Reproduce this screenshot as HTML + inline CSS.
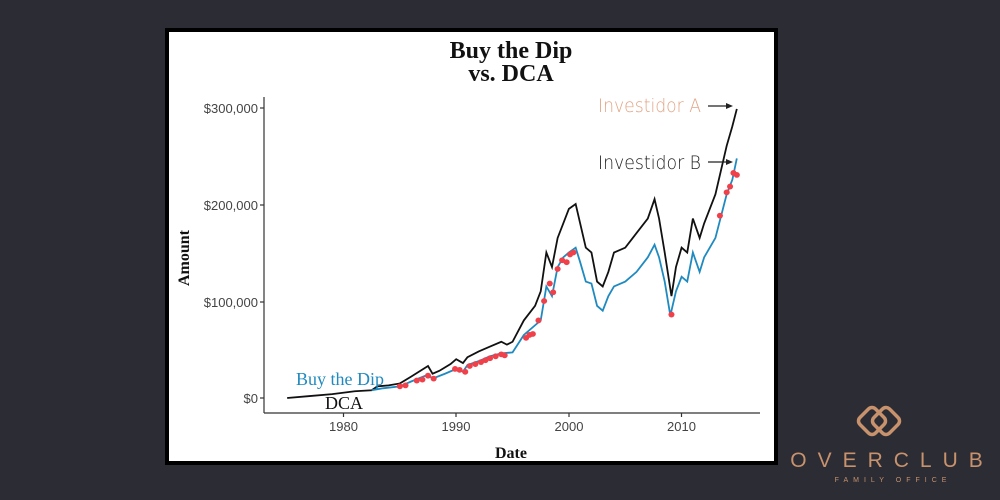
<!DOCTYPE html>
<html><head><meta charset="utf-8"><style>
html,body{margin:0;padding:0;width:1000px;height:500px;background:#2c2c35;overflow:hidden}
svg{display:block}
</style></head><body>
<svg width="1000" height="500" xmlns="http://www.w3.org/2000/svg">
<rect x="0" y="0" width="1000" height="500" fill="#2c2c35"/>
<rect x="167" y="30" width="609" height="433" fill="#fff" stroke="#000" stroke-width="4"/>
<g font-family="Liberation Serif, serif" font-weight="bold" font-size="24" text-anchor="middle" fill="#111">
<text x="511" y="58">Buy the Dip</text>
<text x="511" y="81">vs. DCA</text>
</g>
<text x="511" y="458" font-family="Liberation Serif, serif" font-weight="bold" font-size="16" text-anchor="middle" fill="#111">Date</text>
<text transform="translate(189,258) rotate(-90)" font-family="Liberation Serif, serif" font-weight="bold" font-size="16" text-anchor="middle" fill="#111">Amount</text>
<line x1="264" y1="97" x2="264" y2="413" stroke="#333" stroke-width="1.2"/>
<line x1="264" y1="413" x2="760" y2="413" stroke="#333" stroke-width="1.2"/>
<g stroke="#333" stroke-width="1.2">
<line x1="260" y1="108" x2="264" y2="108"/><line x1="260" y1="205" x2="264" y2="205"/>
<line x1="260" y1="302" x2="264" y2="302"/><line x1="260" y1="398" x2="264" y2="398"/>
<line x1="343.5" y1="413" x2="343.5" y2="417"/><line x1="456" y1="413" x2="456" y2="417"/>
<line x1="569" y1="413" x2="569" y2="417"/><line x1="681.5" y1="413" x2="681.5" y2="417"/>
</g>
<g font-family="Liberation Sans, sans-serif" font-size="13" fill="#444" text-anchor="end">
<text x="258" y="113">$300,000</text><text x="258" y="210">$200,000</text>
<text x="258" y="307">$100,000</text><text x="258" y="403">$0</text>
</g>
<g font-family="Liberation Sans, sans-serif" font-size="13" fill="#444" text-anchor="middle">
<text x="343.5" y="431">1980</text><text x="456" y="431">1990</text>
<text x="569" y="431">2000</text><text x="681.5" y="431">2010</text>
</g>
<g transform="translate(-21971.1,398) scale(11.27,-0.97)">
<polyline fill="none" stroke="#111" stroke-width="1.8" vector-effect="non-scaling-stroke" points="1975,0 1977,2 1979,4 1981,7 1982.5,8 1983,12 1984,13 1985,15 1986,22 1987.5,33 1987.9,25 1988.5,28 1989.5,35 1990,40 1990.6,36 1991,42 1992,48 1993,53 1994,58 1994.5,55 1995,58 1996,80 1997,95 1997.5,110 1998,150 1998.5,135 1999,165 1999.5,180 2000,195 2000.6,200 2001,180 2001.5,155 2002,150 2002.5,120 2003,115 2003.5,130 2004,150 2005,155 2006,170 2007,185 2007.6,205 2008,185 2008.5,150 2009.1,105 2009.5,135 2010,155 2010.5,150 2011,185 2011.6,165 2012,180 2013,210 2014,260 2014.5,280 2014.9,298"/>
<polyline fill="none" stroke="#1f8ac0" stroke-width="1.8" vector-effect="non-scaling-stroke" points="1982.5,8 1983.5,10 1985,12 1986,17 1987.5,24 1987.9,20 1989,25 1990,30 1990.6,27 1991,34 1992,38 1993,43 1994,46 1995,47 1996,65 1997,75 1997.5,80 1998,115 1998.5,105 1999,135 1999.5,145 2000,150 2000.6,155 2001,140 2001.5,120 2002,118 2002.5,95 2003,90 2003.5,105 2004,115 2005,120 2006,130 2007,145 2007.6,158 2008,145 2008.5,120 2009,85 2009.5,110 2010,125 2010.5,120 2011,150 2011.6,130 2012,145 2013,165 2014,210 2014.5,225 2014.9,247"/>
<g fill="#f0404a">
<ellipse cx="1985" cy="12" rx="0.27" ry="3"/><ellipse cx="1985.5" cy="13" rx="0.27" ry="3"/><ellipse cx="1986.5" cy="18" rx="0.27" ry="3"/><ellipse cx="1987" cy="19" rx="0.27" ry="3"/><ellipse cx="1987.5" cy="23" rx="0.27" ry="3"/><ellipse cx="1988" cy="20" rx="0.27" ry="3"/><ellipse cx="1989.9" cy="30" rx="0.27" ry="3"/><ellipse cx="1990.3" cy="29" rx="0.27" ry="3"/><ellipse cx="1990.8" cy="27" rx="0.27" ry="3"/><ellipse cx="1991.2" cy="33" rx="0.27" ry="3"/><ellipse cx="1991.7" cy="35" rx="0.27" ry="3"/><ellipse cx="1992.2" cy="37" rx="0.27" ry="3"/><ellipse cx="1992.6" cy="39" rx="0.27" ry="3"/><ellipse cx="1993" cy="41" rx="0.27" ry="3"/><ellipse cx="1993.5" cy="43" rx="0.27" ry="3"/><ellipse cx="1994" cy="45" rx="0.27" ry="3"/><ellipse cx="1994.3" cy="44" rx="0.27" ry="3"/><ellipse cx="1996.2" cy="62" rx="0.27" ry="3"/><ellipse cx="1996.5" cy="65" rx="0.27" ry="3"/><ellipse cx="1996.8" cy="66" rx="0.27" ry="3"/><ellipse cx="1997.3" cy="80" rx="0.27" ry="3"/><ellipse cx="1997.8" cy="100" rx="0.27" ry="3"/><ellipse cx="1998.3" cy="118" rx="0.27" ry="3"/><ellipse cx="1998.6" cy="109" rx="0.27" ry="3"/><ellipse cx="1999" cy="133" rx="0.27" ry="3"/><ellipse cx="1999.4" cy="142" rx="0.27" ry="3"/><ellipse cx="1999.8" cy="140" rx="0.27" ry="3"/><ellipse cx="2000.1" cy="148" rx="0.27" ry="3"/><ellipse cx="2000.4" cy="150" rx="0.27" ry="3"/><ellipse cx="2009.1" cy="86" rx="0.27" ry="3"/><ellipse cx="2013.4" cy="188" rx="0.27" ry="3"/><ellipse cx="2014" cy="212" rx="0.27" ry="3"/><ellipse cx="2014.3" cy="218" rx="0.27" ry="3"/><ellipse cx="2014.6" cy="232" rx="0.27" ry="3"/><ellipse cx="2014.9" cy="230" rx="0.27" ry="3"/>
</g>
</g>
<text x="296" y="385" font-family="Liberation Serif, serif" font-size="18" fill="#1f8ac0">Buy the Dip</text>
<text x="325" y="409" font-family="Liberation Serif, serif" font-size="18" fill="#111">DCA</text>
<text x="598" y="112" font-family="DejaVu Sans, sans-serif" font-weight="200" font-size="19" fill="#e3a486" textLength="103" lengthAdjust="spacingAndGlyphs">Investidor A</text>
<text x="598" y="169" font-family="DejaVu Sans, sans-serif" font-weight="200" font-size="19" fill="#222" textLength="103" lengthAdjust="spacingAndGlyphs">Investidor B</text>
<g stroke="#222" stroke-width="1.3"><line x1="708" y1="106" x2="730" y2="106"/><line x1="708" y1="162" x2="730" y2="162"/></g>
<polygon points="733,106 726,103 726,109" fill="#222"/><polygon points="733,162 726,159 726,165" fill="#222"/>
<g fill="none" stroke="#c8926c" stroke-width="3.5">
<rect x="861" y="410" width="22" height="22" rx="5" transform="rotate(45 872 421)"/>
<rect x="875" y="410" width="22" height="22" rx="5" transform="rotate(45 886 421)"/>
</g>
<text x="892" y="467" font-family="Liberation Sans, sans-serif" font-size="21" letter-spacing="11" fill="#c8926c" text-anchor="middle">OVERCLUB</text>
<text x="893" y="482" font-family="Liberation Sans, sans-serif" font-size="7" letter-spacing="5" fill="#c8926c" text-anchor="middle">FAMILY OFFICE</text>
</svg>
</body></html>
